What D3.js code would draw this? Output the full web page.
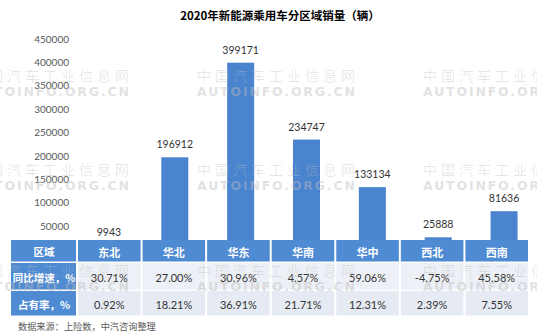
<!DOCTYPE html>
<html><head><meta charset="utf-8">
<script src="https://cdn.jsdelivr.net/npm/d3@7/dist/d3.min.js"></script>
<style>
html,body{margin:0;padding:0;background:#fff;}
svg{display:block;}
</style></head>
<body>
<svg id="chart" width="537" height="334"></svg>
<script>
const title = "2020年新能源乘用车分区域销量（辆）";
const regions = ["东北","华北","华东","华南","华中","西北","西南"];
const sales = [9943,196912,399171,234747,133134,25888,81636];
const growth = ["30.71%","27.00%","30.96%","4.57%","59.06%","-4.75%","45.58%"];
const share = ["0.92%","18.21%","36.91%","21.71%","12.31%","2.39%","7.55%"];
const rowLabels = ["区域","同比增速，%","占有率，%"];
const yTicks = [0,50000,100000,150000,200000,250000,300000,350000,400000,450000];
const source = "数据来源：上险数，中汽咨询整理";
const wmCN = "中国汽车工业信息网";
const wmEN = "AUTOINFO.ORG.CN";

const svg = d3.select("#chart");
const CJK = "'Noto Sans CJK SC','Noto Sans',sans-serif";
const NUM = "Lato,'Open Sans',sans-serif";

// title
svg.append("text").attr("x",280).attr("y",20).attr("text-anchor","middle")
  .attr("font-family",CJK).attr("font-weight","bold").attr("font-size",11.5)
  .attr("fill","#000").text(title);

// scales
const y = d3.scaleLinear().domain([0,450000]).range([249.4,38.9]);
const x = d3.scaleBand().domain(regions).range([76,537]).paddingInner(0.59).paddingOuter(0.295);

// y axis
const ax = svg.append("g").attr("transform","translate(72,0)")
  .call(d3.axisLeft(y).tickValues(yTicks).tickSize(0).tickPadding(3).tickFormat(d3.format("d")));
ax.select(".domain").remove();
ax.selectAll("text").attr("font-family",NUM).attr("font-size",10).attr("fill","#595959");

// bars
svg.append("g").selectAll("rect").data(regions).join("rect")
  .attr("x",d=>x(d)).attr("width",x.bandwidth())
  .attr("y",(d,i)=>y(sales[i])).attr("height",(d,i)=>y(0)-y(sales[i]))
  .attr("fill","#4a84cf");

// value labels
svg.append("g").selectAll("text").data(regions).join("text")
  .attr("x",d=>x(d)+x.bandwidth()/2).attr("y",(d,i)=>y(sales[i])-9)
  .attr("text-anchor","middle").attr("font-family",NUM).attr("font-size",10.5)
  .attr("fill","#333").text((d,i)=>sales[i]);

// table
const tx = d3.scaleBand().domain(regions).range([77,529]);
const firstCol = [11,77];
const rowsY = [[240,263],[263,291],[291,317]];
const rowsData = [regions, growth, share];
const headBlue = "#4f8bd2";
const rowFill = ["#edf0f6","#e6ebf3"];
const tbl = svg.append("g");
rowsY.forEach((ry,ri)=>{
  tbl.append("rect").attr("x",firstCol[0]).attr("y",ry[0])
    .attr("width",firstCol[1]-firstCol[0]-1).attr("height",ry[1]-ry[0]-1.5).attr("fill",headBlue);
  tbl.append("text").attr("x",(firstCol[0]+firstCol[1])/2).attr("y",(ry[0]+ry[1])/2)
    .attr("text-anchor","middle").attr("dominant-baseline","central")
    .attr("font-family",CJK).attr("font-weight","bold").attr("font-size",10.5)
    .attr("fill","#fff").text(rowLabels[ri]);
  tbl.selectAll(null).data(regions).join("rect")
    .attr("x",d=>tx(d)+1).attr("y",ry[0]).attr("width",tx.bandwidth()-2).attr("height",ry[1]-ry[0]-1.5)
    .attr("fill",ri===0?headBlue:rowFill[ri-1]);
  tbl.selectAll(null).data(regions).join("text")
    .attr("x",d=>tx(d)+tx.bandwidth()/2).attr("y",(ry[0]+ry[1])/2)
    .attr("text-anchor","middle").attr("dominant-baseline","central")
    .attr("font-family",ri===0?CJK:NUM).attr("font-weight",ri===0?"bold":"normal")
    .attr("font-size",11)
    .attr("fill",ri===0?"#fff":"#333").text((d,i)=>rowsData[ri][i]);
});

// source
svg.append("text").attr("x",18).attr("y",326).attr("dominant-baseline","central")
  .attr("font-family",CJK).attr("font-size",9.2).attr("fill","#595959").text(source);

// watermark
const wm = svg.append("g").attr("pointer-events","none");
const wmCols = [-29,197,423];
const wmRows = [75,169,270];
wmCols.forEach(cx=>{
  wmRows.forEach(cy=>{
    wm.append("text").attr("x",cx).attr("y",cy).attr("dominant-baseline","central")
      .attr("font-family",CJK).attr("font-size",14).attr("font-weight",300)
      .attr("fill","#bdbdbd").attr("fill-opacity",0.45)
      .attr("textLength",158).attr("lengthAdjust","spacing").text(wmCN);
    wm.append("text").attr("x",cx).attr("y",cy+16).attr("dominant-baseline","central")
      .attr("font-family","'DejaVu Sans',sans-serif").attr("font-weight","bold").attr("font-size",12.5)
      .attr("fill","#bdbdbd").attr("fill-opacity",0.45)
      .attr("textLength",158).attr("lengthAdjust","spacing").text(wmEN);
  });
});
</script>
</body></html>
